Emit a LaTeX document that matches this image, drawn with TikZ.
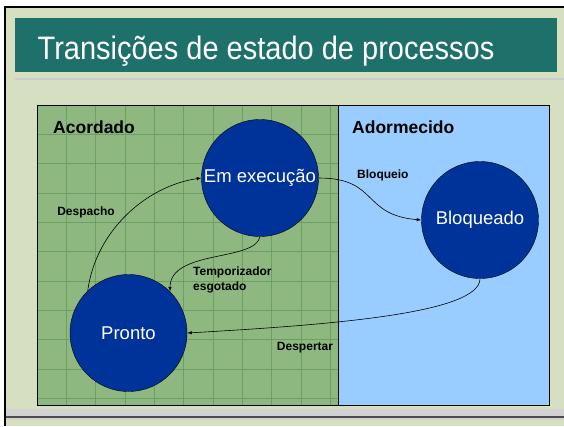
\documentclass[tikz,border=0pt]{standalone}
\usepackage{fontspec}
\setmainfont{Liberation Sans}
\usepackage{tikz}
\usetikzlibrary{shapes, arrows}

\definecolor{slidebg}{RGB}{214,224,192}
\definecolor{titlebar}{RGB}{30,112,106}
\definecolor{awake}{RGB}{143,184,128}
\definecolor{awakegrid}{RGB}{106,160,98}
\definecolor{asleep}{RGB}{153,204,255}
\definecolor{procfill}{RGB}{0,51,153}

\begin{document}
\begin{tikzpicture}[x=1pt, y=-1pt,
    proc/.style = {draw, circle, fill=procfill, text=white, minimum size=117pt, inner sep=0pt, font=\fontsize{18.5}{20}\selectfont},
    lbl/.style = {font=\bfseries\fontsize{12}{14.5}\selectfont, inner sep=0pt},
    area/.style = {font=\bfseries\fontsize{17.5}{20}\selectfont, anchor=west, inner sep=0pt},
    trans/.style = {-latex, line width=0.6pt}]
    \useasboundingbox (0,0) rectangle (564,426);

    % slide
    \fill[white] (0,0) rectangle (564,426);
    \fill[slidebg] (5,7) rectangle (564,426);
    \fill[gray!35] (5,409) rectangle (564,420);
    \draw[gray!60!black, line width=1.5pt] (5,417) -- (564,417);
    \draw[line width=1.5pt] (5,426) -- (5,7) -- (564,7);
    \fill[titlebar] (15,18) rectangle (557,72);
    \draw[gray!40, line width=2.5pt] (15,79) -- (564,79);
    \node[text=white, font=\fontsize{29}{34}\selectfont, anchor=base] (title) at (266,59) {\scalebox{1}[1.12]{Transições de estado de processos}};

    % areas
    \fill[awake] (37,105) rectangle (338,405);
    \fill[asleep] (338,105) rectangle (549,405);
    \foreach \g in {1,...,10} {
        \draw[awakegrid] (37+29.3*\g,105) -- (37+29.3*\g,405);
        \draw[awakegrid] (37,105+29.3*\g) -- (338,105+29.3*\g);
    }
    \draw[line width=0.8pt] (37,105) rectangle (549,405);
    \draw[line width=0.8pt] (338,105) -- (338,405);
    \node[area] (acordado) at (53,127) {Acordado};
    \node[area] (adormecido) at (352,127) {Adormecido};

    % states
    \node[proc] (exec) at (260,178) {Em execução};
    \node[proc] (bloq) at (480,220) {Bloqueado};
    \node[proc] (pronto) at (128.5,333) {Pronto};

    \draw[trans] (pronto.134) .. controls +(8,-60) and +(-55,8) .. (exec.west);
    \draw[trans] (exec.south) .. controls +(-5,25) and +(0,-42) .. (pronto.45);
    \draw[trans] (exec.east) .. controls +(60,0) and +(-60,-5) .. (bloq.west);
    \draw[trans] (bloq.south) .. controls +(0,35) and +(140,-8) .. (pronto.east);

    \node[lbl] (despacho) at (86,212) {Despacho};
    \node[lbl, anchor=west, align=left] (tempo) at (193,280) {Temporizador\\esgotado};
    \node[lbl, anchor=west] (bloqueio) at (357,175) {Bloqueio};
    \node[lbl] (despertar) at (305,348) {Despertar};
\end{tikzpicture}
\end{document}
